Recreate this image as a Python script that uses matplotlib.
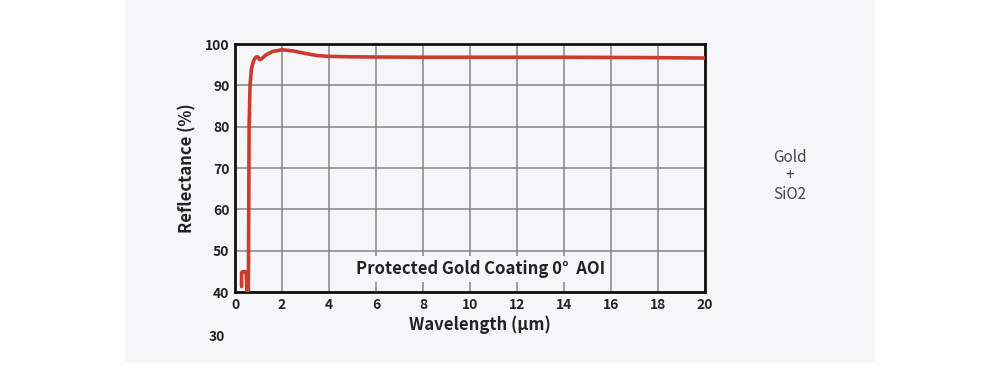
import matplotlib.pyplot as plt

plt.rcParams['font.family'] = ['Noto Sans CJK SC', 'DejaVu Sans']

# reflectance curve
wavelength = [0.28, 0.28, 0.31, 0.46, 0.48, 0.50, 0.52, 0.55, 0.57, 0.60, 0.64,
              0.70, 0.78, 0.88, 0.97, 1.05, 1.15, 1.30, 1.60, 2.00, 2.50,
              3.00, 3.50, 4.00, 5.00, 6.00, 8.00, 10.0, 12.0, 14.0, 16.0,
              18.0, 20.0]
reflectance = [41.3, 44.6, 44.9, 44.9, 44.0, 40.5, 37.0, 37.0, 40.0, 80.0, 90.0,
               94.0, 95.8, 96.8, 96.9, 96.2, 96.5, 97.3, 98.2, 98.6, 98.3,
               97.7, 97.2, 97.0, 96.9, 96.85, 96.8, 96.8, 96.8, 96.8, 96.75,
               96.7, 96.6]
x_ticks = list(range(0, 21, 2))
y_ticks = list(range(40, 101, 10))

fig = plt.figure(figsize=(10, 3.66), dpi=100)
fig.patch.set_facecolor('white')
# grey panel behind the chart
fig.patches.append(plt.Rectangle((0.125, 0.008), 0.75, 0.992, transform=fig.transFigure,
                                 facecolor='#f6f6f8', edgecolor='none', zorder=-1))

ax = fig.add_axes([0.235, 1 - 292 / 366, 0.47, 248 / 366])
ax.set_facecolor('#f6f6f8')
ax.plot(wavelength, reflectance, color='#cc3b2f', lw=2.6, solid_joinstyle='round',
        solid_capstyle='round', zorder=3)
ax.set_xlim(0, 20)
ax.set_ylim(40, 100)
ax.set_xticks(x_ticks)
ax.set_yticks(y_ticks)
ax.grid(True, color='#858585', lw=1.1)
ax.tick_params(length=0, labelsize=10, pad=4)
for lab in ax.get_xticklabels() + ax.get_yticklabels():
    lab.set_fontweight('bold')
    lab.set_color('#222222')
for s in ax.spines.values():
    s.set_linewidth(2)
    s.set_color('#111111')

ax.set_xlabel('Wavelength (μm)', fontsize=12, fontweight='bold', color='#222222')
ax.xaxis.set_label_coords(0.522, -0.095)
ax.set_ylabel('Reflectance (%)', fontsize=12, fontweight='bold', color='#222222', labelpad=6)

# stray label under the axis
ax.text(-0.42, 29.0, '30', ha='right', va='center', fontsize=10, fontweight='bold',
        color='#222222', clip_on=False)

ax.text(10.45, 45.6, 'Protected Gold Coating 0°  AOI', ha='center', va='center',
        fontsize=12, fontweight='bold', color='#222222', zorder=4,
        bbox=dict(facecolor='#f6f6f8', edgecolor='none', pad=3))

fig.text(0.79, 1 - 176 / 366, 'Gold\n+\nSiO2', ha='center', va='center', fontsize=11,
         color='#444444', linespacing=1.1)

fig.savefig('out.png', dpi=100, facecolor=fig.get_facecolor())
